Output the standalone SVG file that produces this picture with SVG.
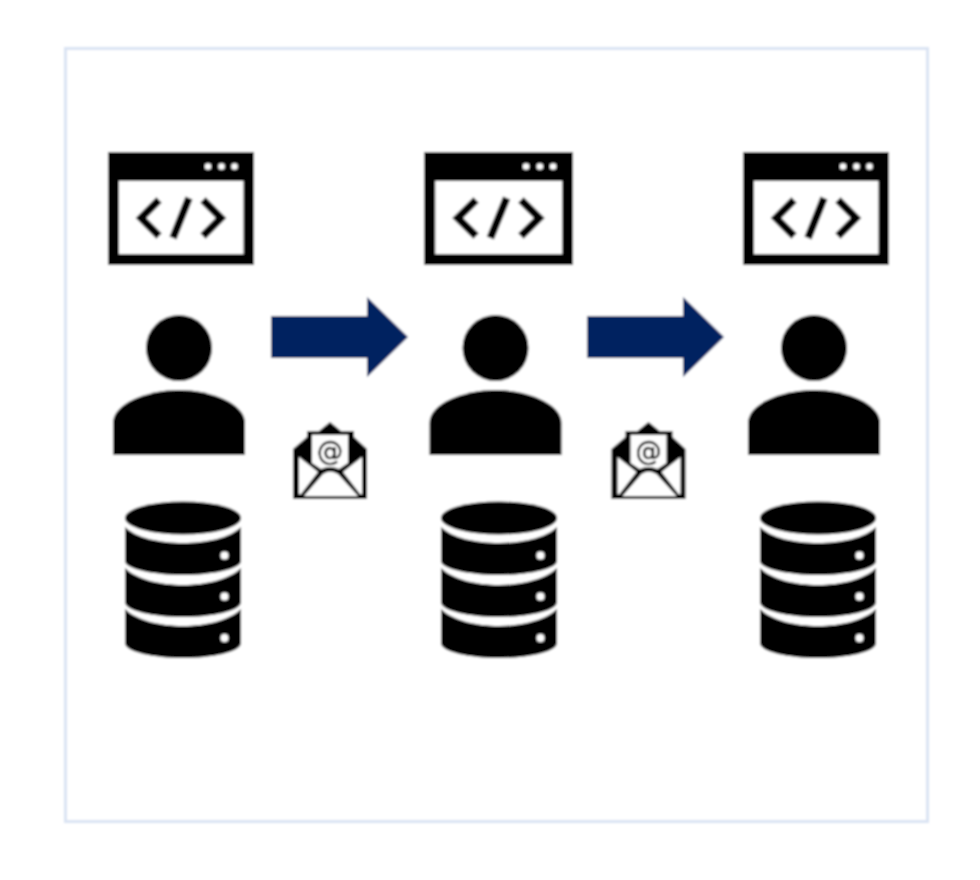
<svg xmlns="http://www.w3.org/2000/svg" xmlns:xlink="http://www.w3.org/1999/xlink" width="980" height="880" viewBox="0 0 980 880">
<style>
.w{fill:#fff}
.ln{fill:none;stroke:#000;stroke-width:7.500;stroke-linecap:butt;stroke-linejoin:miter}
.conn{fill:#002060}
.at{font-family:"DejaVu Sans",sans-serif;font-size:26px;text-anchor:middle;fill:#000;stroke:#000;stroke-width:0.500}
</style>
<defs>
<filter id="soft" x="0" y="0" width="980" height="880" filterUnits="userSpaceOnUse"><feGaussianBlur stdDeviation="0.8"/></filter>
<g id="window">
<rect x="108" y="152" width="146" height="113"/>
<rect class="w" x="119" y="181" width="124.500" height="73"/>
<circle class="w" cx="208" cy="166.500" r="3.200"/><circle class="w" cx="221.500" cy="166.500" r="3.200"/><circle class="w" cx="234.500" cy="166.500" r="3.200"/>
<path class="ln" d="M159 200 L141 218 L159 236"/>
<path class="ln" d="M189 198 L173 238"/>
<path class="ln" d="M203 200 L221 218 L203 236"/>
</g>
<g id="person">
<circle cx="179" cy="348" r="33"/>
<path d="M113 455 V423 C113 403 148 390 179 390 C210 390 245 403 245 423 V455 Z"/>
</g>
<g id="db">
<ellipse cx="183" cy="518" rx="58" ry="16.500"/>
<path d="M125 527 C136 538 160 543 183 543 C206 543 230 538 241 527 V561 C241 569 212 575 183 575 C154 575 125 569 125 561 Z"/>
<path d="M125 568 C136 579 160 585 183 585 C206 585 230 579 241 568 V602 C241 611 212 617 183 617 C154 617 125 611 125 602 Z"/>
<path d="M125 609 C136 620 160 626 183 626 C206 626 230 620 241 609 V643 C241 652 212 658 183 658 C154 658 125 652 125 643 Z"/>
<circle class="w" cx="224.500" cy="555.500" r="4"/><circle class="w" cx="224.500" cy="596.500" r="4"/><circle class="w" cx="224.500" cy="638" r="4"/>
</g>
<g id="mail">
<path d="M330 422 L341 431 L354 431 L354 437 L367 449 V499 H293 V449 L307 437 L307 431 L319 431 Z"/>
<path class="w" d="M312 435 H348 V463 L339 469 Q330 465 321 469 L312 463 Z"/>
<path class="w" d="M299 457 L318 472 L301 494 L299 494 Z"/>
<path class="w" d="M362 457 L343 472 L360 494 L362 494 Z"/>
<path class="w" d="M304 496 L323 474 Q330 469 338 474 L358 496 Z"/>
<text class="at" x="330" y="460">@</text>
</g>
</defs>
<rect width="980" height="880" fill="#fff"/>
<g filter="url(#soft)">
<rect id="frame" x="65.500" y="48.500" width="862" height="773" fill="#fff" stroke="#dae3f3" stroke-width="3"/>
<g id="connectors">
<path class="conn" d="M271 316 H367 V297 L408 337 L367 377 V358 H271 Z"/>
<path class="conn" d="M587 316 H683 V297 L724 337 L683 377 V358 H587 Z"/>
</g>
<g id="user-1"><use xlink:href="#window"/><use xlink:href="#person"/><use xlink:href="#db"/></g>
<g id="user-2"><use xlink:href="#window" transform="translate(424 0) scale(1.0205 1) translate(-108 0)"/><use xlink:href="#person" x="316.500"/><use xlink:href="#db" x="316"/></g>
<g id="user-3"><use xlink:href="#window" x="635"/><use xlink:href="#person" x="635"/><use xlink:href="#db" x="635"/></g>
<g id="mail-1"><use xlink:href="#mail"/></g>
<g id="mail-2"><use xlink:href="#mail" x="318.500"/></g>
</g>
</svg>
